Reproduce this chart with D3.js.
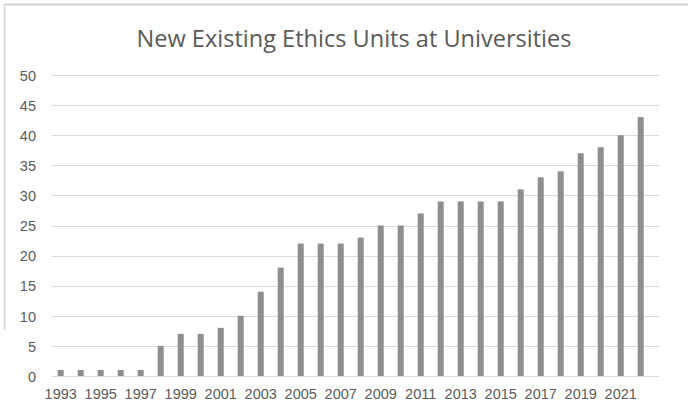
<!DOCTYPE html>
<html><head><meta charset="utf-8">
<script src="https://cdn.jsdelivr.net/npm/d3@7/dist/d3.min.js"></script>
<style>html,body{margin:0;padding:0;background:#fff;}svg{display:block;}</style>
</head><body>
<script>
const years = d3.range(1993, 2023).map(String);
const values = [1,1,1,1,1,5,7,7,8,10,14,18,22,22,22,23,25,25,27,29,29,29,29,31,33,34,37,38,40,43];
const yTicks = [0,5,10,15,20,25,30,35,40,45,50];
const xLabels = years.filter((d,i) => i % 2 === 0 && +d <= 2021);
const title = "New Existing Ethics Units at Universities";

const W = 688, H = 413;
const svg = d3.select("body").append("svg").attr("width", W).attr("height", H);
const font = "'Liberation Sans', Arial, sans-serif";

// frame edges
svg.append("line").attr("x1",4).attr("x2",688).attr("y1",4.5).attr("y2",4.5).attr("stroke","#d0d0d0").attr("stroke-width",2);
svg.append("line").attr("x1",4.5).attr("x2",4.5).attr("y1",4).attr("y2",330).attr("stroke","#dcdcdc").attr("stroke-width",2);

const x = d3.scaleBand().domain(years).range([50.7, 650.7]).paddingInner(0.7).paddingOuter(0.35);
const y = d3.scaleLinear().domain([0, 50]).range([376, 75]);

// gridlines
svg.append("g").selectAll("line").data(yTicks).join("line")
  .attr("x1", 52).attr("x2", 659)
  .attr("y1", d => Math.round(y(d)) + 0.5).attr("y2", d => Math.round(y(d)) + 0.5)
  .attr("stroke", "#d9d9d9").attr("stroke-width", 1);

// y labels
const yAxis = d3.axisLeft(y).tickValues(yTicks).tickSize(0).tickPadding(0);
const ga = svg.append("g").attr("transform", "translate(36,0)").call(yAxis);
ga.select(".domain").remove();
ga.selectAll("text").attr("font-family", font).attr("font-size", 14.5).attr("fill", "#595959").attr("dy","0.36em");

// bars
const bw = 6;
svg.append("g").selectAll("rect").data(values).join("rect")
  .attr("x", (d,i) => x(years[i]) + x.bandwidth()/2 - bw/2)
  .attr("width", bw)
  .attr("y", d => y(d))
  .attr("height", d => y(0) - y(d))
  .attr("fill", "#8e8e8e");

// x labels
const xAxis = d3.axisBottom(x).tickValues(xLabels).tickSize(0).tickPadding(0);
const gx = svg.append("g").attr("transform", "translate(0,389)").call(xAxis);
gx.select(".domain").remove();
gx.selectAll("text").attr("font-family", font).attr("font-size", 14.5).attr("fill", "#595959").attr("dy","0.71em");

// title
svg.append("text").attr("x", 354).attr("y", 47).attr("text-anchor","middle")
  .attr("font-family", "'Open Sans', 'Liberation Sans', sans-serif").attr("font-weight", 400)
  .attr("font-size", 23).attr("textLength", 435).attr("lengthAdjust", "spacingAndGlyphs")
  .attr("fill", "#595959").text(title);
</script>
</body></html>
